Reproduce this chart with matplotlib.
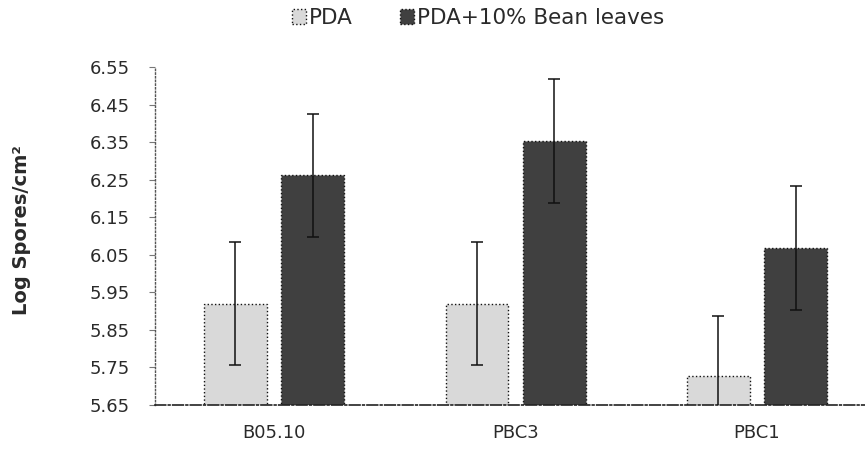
import matplotlib
matplotlib.use("Agg")
import matplotlib.pyplot as plt
import numpy as np

categories = ["B05.10", "PBC3", "PBC1"]
series_names = ["PDA", "PDA+10% Bean leaves"]
pda = [5.92, 5.92, 5.728]
pda_err = [0.163, 0.163, 0.16]
bean = [6.262, 6.353, 6.069]
bean_err = [0.164, 0.165, 0.165]
yticks = [5.65, 5.75, 5.85, 5.95, 6.05, 6.15, 6.25, 6.35, 6.45, 6.55]

plt.rcParams['font.family'] = ['DejaVu Sans']
text_color = '#2a2a2a'

fig = plt.figure(figsize=(8.65, 4.53), dpi=100)
ax = fig.add_axes([155/865, 1-405/453, 1-155/865, (405-67)/453])

x = np.arange(len(categories))
w = 0.26
off = 0.16
b1 = ax.bar(x - off, pda, w, color='#d9d9d9', edgecolor='#111111',
            linewidth=1.0, linestyle=':', label=series_names[0], zorder=2)
b2 = ax.bar(x + off, bean, w, color='#404040', edgecolor='#111111',
            linewidth=1.0, linestyle=':', label=series_names[1], zorder=2)
ax.errorbar(x - off, pda, yerr=pda_err, fmt='none', ecolor='#111111',
            elinewidth=1.1, capsize=4, capthick=1.1, zorder=3)
ax.errorbar(x + off, bean, yerr=bean_err, fmt='none', ecolor='#111111',
            elinewidth=1.1, capsize=4, capthick=1.1, zorder=3)

ax.set_ylim(5.65, 6.55)
ax.set_xlim(-0.493, 2.447)
ax.set_yticks(yticks)
ax.set_yticklabels([f"{v:.2f}" for v in yticks])
ax.set_xticks(x)
ax.set_xticklabels(categories)

for s in ['top', 'right']:
    ax.spines[s].set_visible(False)
ax.spines['left'].set_linestyle(':')
ax.spines['left'].set_color('#555555')
ax.spines['left'].set_linewidth(1.0)
ax.spines['bottom'].set_linestyle('-.')
ax.spines['bottom'].set_color('#222222')
ax.spines['bottom'].set_linewidth(1.2)

ax.tick_params(axis='y', length=4, width=0.8, color='#777777', pad=14,
               labelsize=13, labelcolor=text_color)
ax.tick_params(axis='x', length=0, pad=14, labelsize=13, labelcolor=text_color)

fig.text(22/865, 1-230/453, "Log Spores/cm²", rotation=90, ha='center',
         va='center', fontsize=14, fontweight='bold', color=text_color)

leg = fig.legend(handles=[b1, b2], labels=series_names, loc='center',
                 bbox_to_anchor=(478/865, 1-18/453), ncol=2, frameon=False,
                 fontsize=15.5, handlelength=0.65, handleheight=0.65,
                 handletextpad=0.15, columnspacing=2.2, borderaxespad=0)
for t in leg.get_texts():
    t.set_color(text_color)

fig.savefig("out.png", dpi=100)
